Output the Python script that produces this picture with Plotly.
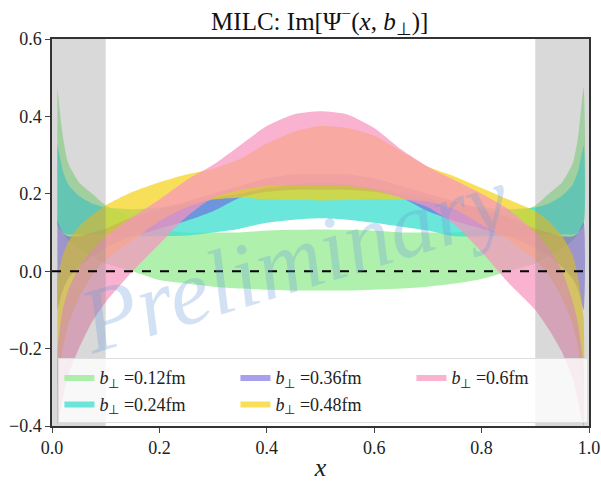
import plotly.graph_objects as go

# x grid of the bands
x_vals = [0.01, 0.02, 0.03, 0.05, 0.075, 0.1, 0.15, 0.2, 0.25, 0.3, 0.35, 0.4, 0.45, 0.5,
          0.55, 0.6, 0.65, 0.7, 0.75, 0.8, 0.85, 0.9, 0.925, 0.95, 0.97, 0.98, 0.99]

b_labels = ["0.12", "0.24", "0.36", "0.48", "0.6"]

g_up = [0.475, 0.35, 0.28, 0.23, 0.20, 0.17, 0.14, 0.11, 0.10, 0.10, 0.10, 0.105, 0.107, 0.108,
        0.107, 0.105, 0.10, 0.10, 0.10, 0.11, 0.14, 0.17, 0.20, 0.23, 0.28, 0.35, 0.475]
g_lo = [0.12, 0.10, 0.08, 0.06, 0.04, 0.02, 0.0, -0.023, -0.032, -0.04, -0.045, -0.048, -0.05, -0.05,
        -0.05, -0.048, -0.045, -0.04, -0.032, -0.02, 0.0, 0.02, 0.04, 0.06, 0.08, 0.10, 0.12]

c_up = [0.33, 0.26, 0.225, 0.195, 0.175, 0.165, 0.16, 0.165, 0.175, 0.19, 0.20, 0.215, 0.225, 0.23,
        0.225, 0.215, 0.20, 0.19, 0.175, 0.165, 0.16, 0.165, 0.175, 0.195, 0.225, 0.26, 0.325]
c_lo = [0.12, 0.10, 0.095, 0.095, 0.095, 0.095, 0.09, 0.09, 0.092, 0.10, 0.11, 0.125, 0.133, 0.137,
        0.133, 0.125, 0.115, 0.105, 0.09, 0.09, 0.09, 0.095, 0.095, 0.095, 0.095, 0.10, 0.12]

p_up = [0.13, 0.10, 0.09, 0.09, 0.10, 0.11, 0.14, 0.16, 0.18, 0.20, 0.22, 0.24, 0.25, 0.25,
        0.25, 0.24, 0.22, 0.20, 0.18, 0.16, 0.14, 0.11, 0.10, 0.09, 0.09, 0.10, 0.125]
p_lo = [-0.10, -0.05, -0.02, 0.01, 0.04, 0.06, 0.09, 0.11, 0.13, 0.155, 0.19, 0.205, 0.21, 0.21,
        0.21, 0.205, 0.19, 0.155, 0.13, 0.11, 0.09, 0.06, 0.04, 0.01, -0.02, -0.05, -0.10]

y_up = [-0.02, 0.04, 0.075, 0.115, 0.145, 0.17, 0.205, 0.23, 0.25, 0.265, 0.29, 0.33, 0.36, 0.375,
        0.37, 0.35, 0.31, 0.27, 0.245, 0.215, 0.185, 0.155, 0.13, 0.09, 0.04, -0.02, -0.12]
y_lo = [-0.30, -0.20, -0.14, -0.07, -0.01, 0.03, 0.08, 0.13, 0.165, 0.185, 0.19, 0.186, 0.184, 0.183,
        0.184, 0.186, 0.185, 0.18, 0.16, 0.12, 0.08, 0.03, -0.01, -0.07, -0.14, -0.20, -0.30]

k_up = [-0.20, -0.10, -0.05, 0.01, 0.055, 0.09, 0.14, 0.185, 0.235, 0.275, 0.325, 0.375, 0.405, 0.413,
        0.405, 0.37, 0.315, 0.27, 0.235, 0.20, 0.16, 0.10, 0.06, 0.0, -0.08, -0.14, -0.25]
k_lo = [-0.40, -0.33, -0.27, -0.20, -0.13, -0.08, 0.0, 0.07, 0.14, 0.19, 0.21, 0.22, 0.222, 0.222,
        0.22, 0.21, 0.19, 0.165, 0.12, 0.05, -0.03, -0.10, -0.15, -0.21, -0.28, -0.34, -0.40]

bands = [(g_up, g_lo), (c_up, c_lo), (p_up, p_lo), (y_up, y_lo), (k_up, k_lo)]
colors = ["rgba(144,236,140,0.72)", "rgba(64,224,208,0.78)", "rgba(110,95,225,0.6)",
          "rgba(245,210,20,0.7)", "rgba(247,148,190,0.72)"]
ranks = [1, 4, 2, 5, 3]

serif = "Liberation Serif"

fig = go.Figure()
for (up, lo), col, lab, rk in zip(bands, colors, b_labels, ranks):
    fig.add_trace(go.Scatter(
        x=x_vals + x_vals[::-1], y=up + lo[::-1], fill="toself", fillcolor=col,
        line=dict(width=0, color=col, shape="spline", smoothing=0.6), mode="lines",
        name="<i>b</i><sub>⊥</sub> =%sfm" % lab, legendrank=rk, hoverinfo="skip"))

fig.update_layout(
    width=601, height=482, margin=dict(l=52, r=12, t=39, b=56),
    plot_bgcolor="white", paper_bgcolor="white",
    font=dict(family=serif, size=18, color="#222"),
    title=dict(text="MILC: Im[Ψ<sup>−</sup>(<i>x</i>, <i>b</i><sub>⊥</sub>)]", x=0.532, xanchor="center",
               y=0.975, yanchor="top", font=dict(family=serif, size=25, color="#111")),
    xaxis=dict(range=[0, 1], tickvals=[0, 0.2, 0.4, 0.6, 0.8, 1.0],
               ticktext=["0.0", "0.2", "0.4", "0.6", "0.8", "1.0"], automargin=False,
               ticks="outside", ticklen=5, tickwidth=1.2, showline=True, linecolor="#333", linewidth=1.5,
               mirror=True, showgrid=False, zeroline=False,
               title=dict(text="<i>x</i>", font=dict(family=serif, size=26), standoff=8)),
    yaxis=dict(range=[-0.4, 0.6], tickvals=[-0.4, -0.2, 0, 0.2, 0.4, 0.6],
               ticktext=["−0.4", "−0.2", "0.0", "0.2", "0.4", "0.6"], automargin=False,
               ticks="outside", ticklen=5, tickwidth=1.2, showline=True, linecolor="#333", linewidth=1.5,
               mirror=True, showgrid=False, zeroline=False),
    legend=dict(orientation="h", x=0.012, y=0.176, xanchor="left", yanchor="top",
                entrywidth=131, itemwidth=30, bgcolor="rgba(255,255,255,0.8)", bordercolor="#ddd",
                borderwidth=1, font=dict(family=serif, size=18), tracegroupgap=0),
    showlegend=True,
)

# excluded regions (grey, drawn over the bands)
fig.add_shape(type="rect", xref="x", yref="paper", x0=0, x1=0.1, y0=0, y1=1,
              fillcolor="rgba(128,128,128,0.3)", line=dict(width=0), layer="above")
fig.add_shape(type="rect", xref="x", yref="paper", x0=0.9, x1=1.0, y0=0, y1=1,
              fillcolor="rgba(128,128,128,0.3)", line=dict(width=0), layer="above")
fig.add_shape(type="line", xref="paper", yref="y", x0=0, x1=1, y0=0, y1=0,
              line=dict(color="black", width=2, dash="dash"), layer="above")

fig.add_annotation(text="<i>Preliminary</i>", x=0.45, y=0.03, xref="x", yref="y", showarrow=False,
                   textangle=-17, font=dict(family=serif, size=92, color="rgba(110,155,220,0.3)"))

fig.write_html("out.html")
